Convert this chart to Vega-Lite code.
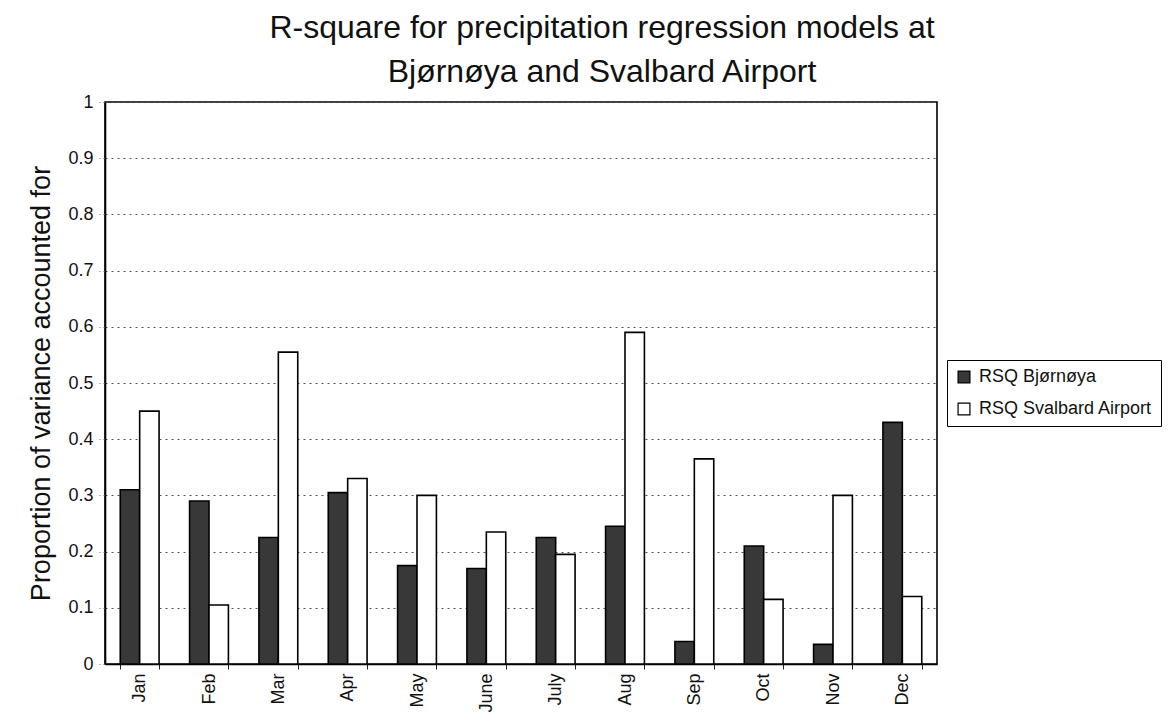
{
  "$schema": "https://vega.github.io/schema/vega-lite/v6.json",
  "width": 832,
  "height": 562,
  "autosize": {"type": "none"},
  "padding": {"left": 105, "top": 102, "right": 239, "bottom": 59},
  "background": "white",
  "title": {
    "text": ["R-square for precipitation regression models at", "Bjørnøya and Svalbard Airport"],
    "font": "Liberation Sans",
    "fontSize": 32,
    "fontWeight": "normal",
    "color": "#111",
    "anchor": "middle",
    "dx": 81,
    "offset": 4,
    "lineHeight": 44
  },
  "data": {
    "values": [
      {"month": "Jan", "series": "RSQ Bjørnøya", "value": 0.31},
      {"month": "Jan", "series": "RSQ Svalbard Airport", "value": 0.45},
      {"month": "Feb", "series": "RSQ Bjørnøya", "value": 0.29},
      {"month": "Feb", "series": "RSQ Svalbard Airport", "value": 0.105},
      {"month": "Mar", "series": "RSQ Bjørnøya", "value": 0.225},
      {"month": "Mar", "series": "RSQ Svalbard Airport", "value": 0.555},
      {"month": "Apr", "series": "RSQ Bjørnøya", "value": 0.305},
      {"month": "Apr", "series": "RSQ Svalbard Airport", "value": 0.33},
      {"month": "May", "series": "RSQ Bjørnøya", "value": 0.175},
      {"month": "May", "series": "RSQ Svalbard Airport", "value": 0.30},
      {"month": "June", "series": "RSQ Bjørnøya", "value": 0.17},
      {"month": "June", "series": "RSQ Svalbard Airport", "value": 0.235},
      {"month": "July", "series": "RSQ Bjørnøya", "value": 0.225},
      {"month": "July", "series": "RSQ Svalbard Airport", "value": 0.195},
      {"month": "Aug", "series": "RSQ Bjørnøya", "value": 0.245},
      {"month": "Aug", "series": "RSQ Svalbard Airport", "value": 0.59},
      {"month": "Sep", "series": "RSQ Bjørnøya", "value": 0.04},
      {"month": "Sep", "series": "RSQ Svalbard Airport", "value": 0.365},
      {"month": "Oct", "series": "RSQ Bjørnøya", "value": 0.21},
      {"month": "Oct", "series": "RSQ Svalbard Airport", "value": 0.115},
      {"month": "Nov", "series": "RSQ Bjørnøya", "value": 0.035},
      {"month": "Nov", "series": "RSQ Svalbard Airport", "value": 0.30},
      {"month": "Dec", "series": "RSQ Bjørnøya", "value": 0.43},
      {"month": "Dec", "series": "RSQ Svalbard Airport", "value": 0.12}
    ]
  },
  "mark": {"type": "bar", "stroke": "black", "strokeWidth": 1.6},
  "encoding": {
    "x": {
      "field": "month",
      "type": "nominal",
      "sort": null,
      "scale": {"paddingInner": 0.44, "paddingOuter": 0.22},
      "axis": {
        "title": null,
        "labelAngle": -90,
        "labelFont": "Liberation Sans",
        "labelFontSize": 18,
        "labelColor": "#111",
        "labelPadding": 4,
        "tickBand": "extent",
        "tickColor": "#222",
        "tickSize": 5,
        "domainColor": "black",
        "domainWidth": 1.6,
        "grid": false
      }
    },
    "xOffset": {"field": "series", "type": "nominal"},
    "y": {
      "field": "value",
      "type": "quantitative",
      "scale": {"domain": [0, 1]},
      "axis": {
        "title": "Proportion of variance accounted for",
        "titleFont": "Liberation Sans",
        "titleFontSize": 27,
        "titleFontWeight": "normal",
        "titleColor": "#111",
        "titlePadding": 12,
        "values": [0, 0.1, 0.2, 0.3, 0.4, 0.5, 0.6, 0.7, 0.8, 0.9, 1],
        "format": "~g",
        "labelFont": "Liberation Sans",
        "labelFontSize": 18,
        "labelColor": "#111",
        "labelPadding": 6,
        "ticks": true,
        "tickSize": 6,
        "tickColor": "#666",
        "tickDash": [2, 3],
        "domainColor": "black",
        "domainWidth": 1.6,
        "grid": true,
        "gridColor": "#555",
        "gridDash": [2, 4],
        "gridWidth": 1
      }
    },
    "fill": {
      "field": "series",
      "type": "nominal",
      "scale": {"range": ["#383838", "white"]},
      "legend": {
        "title": null,
        "orient": "none",
        "legendX": 842,
        "legendY": 258,
        "symbolType": "square",
        "symbolSize": 140,
        "symbolStrokeColor": "black",
        "symbolStrokeWidth": 1.2,
        "labelFont": "Liberation Sans",
        "labelFontSize": 18,
        "labelLimit": 400,
        "labelColor": "#111",
        "labelOffset": 6,
        "strokeColor": "black",
        "fillColor": "white",
        "padding": 8,
        "rowPadding": 14
      }
    }
  },
  "config": {
    "view": {"stroke": "black", "strokeWidth": 1.6}
  }
}
